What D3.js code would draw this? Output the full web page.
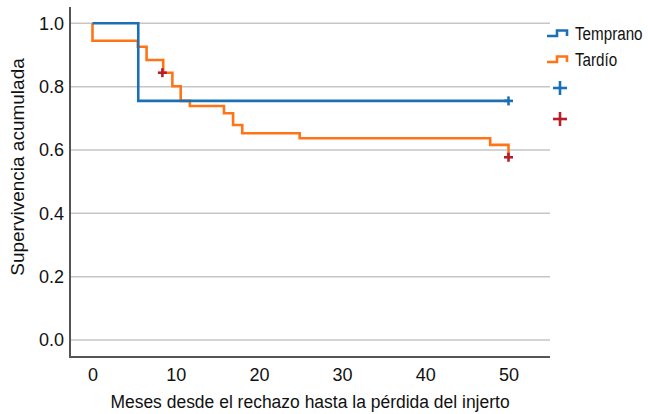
<!DOCTYPE html>
<html>
<head>
<meta charset="utf-8">
<script src="https://cdn.jsdelivr.net/npm/d3@7"></script>
<style>
  html, body { margin: 0; padding: 0; background: #fff; }
  svg { display: block; }
  text { font-family: "Liberation Sans", Arial, Helvetica, sans-serif; fill: #111; }
</style>
</head>
<body>
<svg id="chart" width="648" height="414"></svg>
<script>
// ---- data ----
const xTicks = [0, 10, 20, 30, 40, 50];
const yTicks = [0.0, 0.2, 0.4, 0.6, 0.8, 1.0];

const seriesNames = ["Temprano", "Tardío"];

const tempranoTime = [0, 5.5, 50];
const tempranoSurv = [1.0, 0.755, 0.755];
const tempranoCensorTime = [50];
const tempranoCensorSurv = [0.755];

const tardioTime = [0, 0, 5.45, 6.5, 8.5, 9.6, 10.6, 11.7, 15.8, 16.9, 18.0, 24.9, 47.8, 50];
const tardioSurv = [1.0, 0.945, 0.926, 0.884, 0.844, 0.801, 0.755, 0.739, 0.716, 0.679, 0.653, 0.637, 0.616, 0.577];
const tardioCensorTime = [8.4, 50];
const tardioCensorSurv = [0.844, 0.577];

const xTitle = "Meses desde el rechazo hasta la pérdida del injerto";
const yTitle = "Supervivencia acumulada";

// ---- style ----
const blue = "#1a6fb5";
const orange = "#ff7416";
const darkRed = "#b81d2c";
const gridColor = "#c6c6c6";
const axisColor = "#555";

const svg = d3.select("#chart");

const x = d3.scaleLinear().domain([0, 50]).range([92.5, 508.5]);
const y = d3.scaleLinear().domain([0, 1]).range([340, 23.3]);

const plotLeft = 70, plotRight = 550, plotTop = 7, plotBottom = 357;

// gridlines
svg.append("g").selectAll("line").data(yTicks).join("line")
  .attr("x1", plotLeft).attr("x2", plotRight)
  .attr("y1", d => y(d)).attr("y2", d => y(d))
  .attr("stroke", gridColor).attr("stroke-width", 1.5);

// axes
const xAxis = svg.append("g").attr("transform", `translate(0,${plotBottom})`)
  .call(d3.axisBottom(x).tickValues(xTicks).tickSize(0).tickPadding(11).tickFormat(d3.format("d")));
xAxis.select(".domain").remove();
xAxis.selectAll("text").attr("font-size", 18).attr("font-family", null).attr("fill", "#111");

const yAxis = svg.append("g").attr("transform", `translate(${plotLeft},0)`)
  .call(d3.axisLeft(y).tickValues(yTicks).tickSize(0).tickPadding(6).tickFormat(d3.format(".1f")));
yAxis.select(".domain").remove();
yAxis.selectAll("text").attr("font-size", 18).attr("font-family", null).attr("fill", "#111");

svg.append("line").attr("x1", plotLeft).attr("x2", plotLeft)
  .attr("y1", plotTop).attr("y2", plotBottom + 1)
  .attr("stroke", axisColor).attr("stroke-width", 2);
svg.append("line").attr("x1", plotLeft - 1).attr("x2", plotRight)
  .attr("y1", plotBottom).attr("y2", plotBottom)
  .attr("stroke", axisColor).attr("stroke-width", 2);

// lines
const line = d3.line().x(d => x(d[0])).y(d => y(d[1])).curve(d3.curveStepAfter);
const tempranoPts = tempranoTime.map((t, i) => [t, tempranoSurv[i]]);
const tardioPts = tardioTime.map((t, i) => [t, tardioSurv[i]]);

svg.append("path").datum(tardioPts).attr("d", line)
  .attr("fill", "none").attr("stroke", orange).attr("stroke-width", 2.6);
svg.append("path").datum(tempranoPts).attr("d", line)
  .attr("fill", "none").attr("stroke", blue).attr("stroke-width", 2.6);

// censor marks
function plus(g, cx, cy, half, color, w) {
  g.append("line").attr("x1", cx - half).attr("x2", cx + half).attr("y1", cy).attr("y2", cy)
    .attr("stroke", color).attr("stroke-width", w);
  g.append("line").attr("x1", cx).attr("x2", cx).attr("y1", cy - half).attr("y2", cy + half)
    .attr("stroke", color).attr("stroke-width", w);
}
const cg = svg.append("g");
tempranoCensorTime.forEach((t, i) => plus(cg, x(t), y(tempranoCensorSurv[i]), 4.5, blue, 2.6));
tardioCensorTime.forEach((t, i) => plus(cg, x(t), y(tardioCensorSurv[i]), 4.5, darkRed, 2.6));

// legend
const legend = svg.append("g");
const legColors = [blue, orange];
seriesNames.forEach((name, i) => {
  const by = 36 + i * 26;
  legend.append("path")
    .attr("d", `M547,${by} H557 V${by - 5.5} H567 V${by}`)
    .attr("fill", "none").attr("stroke", legColors[i]).attr("stroke-width", 2.6);
  legend.append("text")
    .attr("transform", `translate(575,${by + 4}) scale(0.8,1)`)
    .attr("font-size", 19).text(name);
});
plus(legend, 560, 88, 7, blue, 2.6);
plus(legend, 560, 119, 7, darkRed, 2.6);

// titles
svg.append("text").attr("transform", "translate(310,408) scale(0.92,1)")
  .attr("text-anchor", "middle").attr("font-size", 19).text(xTitle);
svg.append("text").attr("transform", "translate(24,167) rotate(-90)")
  .attr("text-anchor", "middle").attr("font-size", 19).text(yTitle);
</script>
</body>
</html>
